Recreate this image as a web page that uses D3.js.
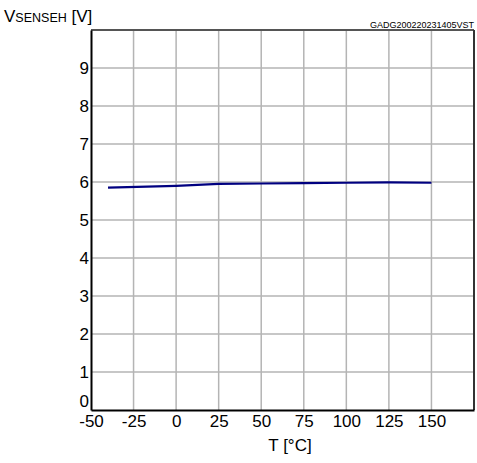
<!DOCTYPE html>
<html lang="en">
<head>
    <script src="https://d3js.org/d3.v7.min.js"></script>
    <style>
        body { margin: 0; background: #fff; }
        text { font-family: "Liberation Sans", Arial, sans-serif; }
    </style>
</head>
<body>
<script>
    // data
    var temps = [-40, 0, 25, 50, 75, 100, 125, 150];
    var vsense = [5.85, 5.9, 5.95, 5.96, 5.97, 5.98, 5.99, 5.98];
    var xTicks = [-50, -25, 0, 25, 50, 75, 100, 125, 150];
    var yTicks = [0, 1, 2, 3, 4, 5, 6, 7, 8, 9];

    var data = temps.map(function(t, i) { return {x: t, y: vsense[i]}; });

    var W = 477, H = 463;
    var pL = 91, pR = 474, pT = 30, pB = 410;

    var xScale = d3.scaleLinear().domain([-50, 175]).range([pL, pR]);
    var yScale = d3.scaleLinear().domain([0, 10]).range([pB, pT]);

    var svg = d3.select("body").append("svg")
        .attr("width", W)
        .attr("height", H);

    // grid
    svg.append("g")
        .selectAll("line")
        .data(xTicks.slice(1))
        .enter().append("line")
        .attr("x1", function(d) { return xScale(d); })
        .attr("x2", function(d) { return xScale(d); })
        .attr("y1", pT).attr("y2", pB)
        .attr("stroke", "#b4b4b4").attr("stroke-width", 1.5);

    svg.append("g")
        .selectAll("line")
        .data(yTicks.slice(1))
        .enter().append("line")
        .attr("x1", pL).attr("x2", pR)
        .attr("y1", function(d) { return yScale(d); })
        .attr("y2", function(d) { return yScale(d); })
        .attr("stroke", "#b4b4b4").attr("stroke-width", 1.5);

    // frame top/right
    svg.append("line").attr("x1", pL).attr("x2", pR).attr("y1", pT).attr("y2", pT)
        .attr("stroke", "#555").attr("stroke-width", 2);
    svg.append("line").attr("x1", pR).attr("x2", pR).attr("y1", pT).attr("y2", pB)
        .attr("stroke", "#333").attr("stroke-width", 2);

    // axes
    var fmt = function(d) { return String(d); };
    var xAxis = svg.append("g")
        .attr("transform", "translate(0," + pB + ")")
        .call(d3.axisBottom(xScale).tickValues(xTicks).tickFormat(fmt).tickSize(0).tickPadding(5));
    xAxis.select(".domain").attr("stroke", "#000").attr("stroke-width", 2);
    xAxis.selectAll("text").attr("font-size", 17).attr("fill", "#000")
        .attr("font-family", "Liberation Sans, Arial, sans-serif");

    var yAxis = svg.append("g")
        .attr("transform", "translate(" + pL + ",0)")
        .call(d3.axisLeft(yScale).tickValues(yTicks).tickFormat(fmt).tickSize(0).tickPadding(2));
    yAxis.select(".domain").attr("stroke", "#000").attr("stroke-width", 2);
    yAxis.selectAll("text").attr("font-size", 17).attr("fill", "#000")
        .attr("font-family", "Liberation Sans, Arial, sans-serif");
    yAxis.selectAll(".tick").filter(function(d) { return d === 0; })
        .select("text").attr("dy", "-0.2em");

    // curve
    svg.append("path")
        .datum(data)
        .attr("fill", "none")
        .attr("stroke", "#000080")
        .attr("stroke-width", 2.2)
        .attr("d", d3.line()
            .x(function(d) { return xScale(d.x); })
            .y(function(d) { return yScale(d.y); }));

    // labels
    var yl = svg.append("text").attr("x", 4).attr("y", 22).attr("font-size", 17).attr("fill", "#000");
    yl.append("tspan").text("V");
    yl.append("tspan").attr("font-size", 12.5).text("SENSEH");
    yl.append("tspan").text(" [V]");

    svg.append("text").attr("x", 290).attr("y", 451).attr("text-anchor", "middle")
        .attr("font-size", 17).attr("fill", "#000").text("T [°C]");

    svg.append("text").attr("x", 474).attr("y", 28).attr("text-anchor", "end")
        .attr("font-size", 9).attr("fill", "#000").text("GADG200220231405VST");
</script>
</body>
</html>
